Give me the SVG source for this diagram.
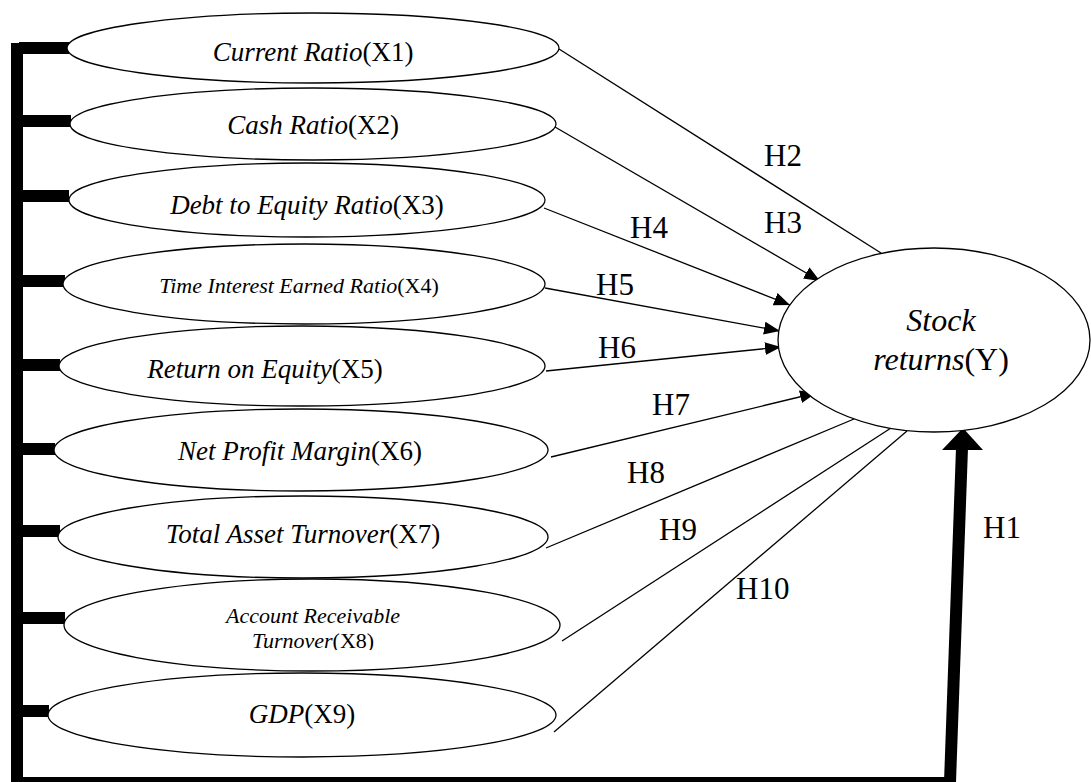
<svg xmlns="http://www.w3.org/2000/svg" width="1091" height="782" viewBox="0 0 1091 782">
<style>
.node ellipse{fill:#fff;stroke:#000;stroke-width:1.3}
.lbl{font-family:"Liberation Serif","Times New Roman",serif;font-size:27px;fill:#000;text-anchor:middle}
.sm{font-size:22px}
.it{font-style:italic}
.h{font-family:"Liberation Serif","Times New Roman",serif;font-size:31px;fill:#000}
.conn line{stroke:#000;stroke-width:1.3}
.bar{fill:#000}
</style>
<defs>
<marker id="ah" markerUnits="userSpaceOnUse" markerWidth="18" markerHeight="14" refX="16" refY="6.5" orient="auto">
<path d="M0,0 L16,6.5 L0,13 z" fill="#000"/>
</marker>
<clipPath id="clip8"><rect x="60" y="570" width="500" height="80"/></clipPath>
</defs>
<rect width="1091" height="782" fill="#fff"/>
<g id="frame">
<rect class="bar" x="11" y="43" width="12" height="739"/>
<rect class="bar" x="19" y="42" width="50" height="12"/>
<rect class="bar" x="19" y="115" width="52" height="12"/>
<rect class="bar" x="19" y="190" width="50" height="12"/>
<rect class="bar" x="19" y="275" width="46" height="12"/>
<rect class="bar" x="19" y="359" width="41" height="12"/>
<rect class="bar" x="19" y="443" width="36" height="12"/>
<rect class="bar" x="19" y="525" width="41" height="12"/>
<rect class="bar" x="19" y="612" width="46" height="12"/>
<rect class="bar" x="19" y="705" width="30" height="12"/>
<rect class="bar" x="11" y="777" width="945" height="5"/>
</g>
<g class="conn" id="connectors">
<line x1="559" y1="49" x2="881" y2="253"/>
<line x1="555" y1="127" x2="820" y2="281" marker-end="url(#ah)"/>
<line x1="544" y1="208" x2="790" y2="305" marker-end="url(#ah)"/>
<line x1="545" y1="288" x2="780" y2="331" marker-end="url(#ah)"/>
<line x1="546" y1="371" x2="781" y2="347" marker-end="url(#ah)"/>
<line x1="551" y1="457" x2="816" y2="393" marker-end="url(#ah)"/>
<line x1="546" y1="548" x2="854" y2="419"/>
<line x1="562" y1="641" x2="891" y2="428"/>
<line x1="554" y1="732" x2="907" y2="431"/>
<polygon points="944,782 956,782 968,448 956,448" fill="#000"/>
<polygon points="942,450 983,450 963,428" fill="#000"/>
</g>
<g id="labels">
<text class="h" x="764" y="166">H2</text>
<text class="h" x="764" y="233">H3</text>
<text class="h" x="630" y="238">H4</text>
<text class="h" x="596" y="295">H5</text>
<text class="h" x="598" y="358">H6</text>
<text class="h" x="652" y="415">H7</text>
<text class="h" x="627" y="483">H8</text>
<text class="h" x="659" y="540">H9</text>
<text class="h" x="736" y="599">H10</text>
<text class="h" x="983" y="538">H1</text>
</g>
<g class="node" id="x1"><ellipse cx="313" cy="48" rx="246" ry="35"/><text class="lbl" x="313" y="61"><tspan class="it">Current Ratio</tspan>(X1)</text></g>
<g class="node" id="x2"><ellipse cx="313" cy="124" rx="243" ry="36"/><text class="lbl" x="313" y="134"><tspan class="it">Cash Ratio</tspan>(X2)</text></g>
<g class="node" id="x3"><ellipse cx="307" cy="200" rx="238" ry="37"/><text class="lbl" x="307" y="214"><tspan class="it">Debt to Equity Ratio</tspan>(X3)</text></g>
<g class="node" id="x4"><ellipse cx="304" cy="284" rx="241" ry="40"/><text class="lbl sm" x="299" y="293"><tspan class="it">Time Interest Earned Ratio</tspan>(X4)</text></g>
<g class="node" id="x5"><ellipse cx="302" cy="366" rx="243" ry="40"/><text class="lbl" x="265" y="378"><tspan class="it">Return on Equity</tspan>(X5)</text></g>
<g class="node" id="x6"><ellipse cx="301" cy="450" rx="247" ry="41"/><text class="lbl" x="300" y="460"><tspan class="it">Net Profit Margin</tspan>(X6)</text></g>
<g class="node" id="x7"><ellipse cx="303" cy="537" rx="245" ry="41"/><text class="lbl" x="303" y="543"><tspan class="it">Total Asset Turnover</tspan>(X7)</text></g>
<g class="node" id="x8"><ellipse cx="312" cy="625" rx="248" ry="46"/><text class="lbl sm" clip-path="url(#clip8)"><tspan class="it" x="313" y="623">Account Receivable</tspan><tspan x="313" y="648"><tspan class="it">Turnover</tspan>(X8)</tspan></text></g>
<g class="node" id="x9"><ellipse cx="302" cy="715" rx="254" ry="42"/><text class="lbl" x="302" y="723"><tspan class="it">GDP</tspan>(X9)</text></g>
<g class="node" id="y"><ellipse cx="934" cy="340" rx="156" ry="92"/><text class="lbl" style="font-size:32px" x="941" y="331"><tspan class="it">Stock</tspan></text><text class="lbl" style="font-size:32px" x="941" y="370"><tspan class="it">returns</tspan>(Y)</text></g>
</svg>
